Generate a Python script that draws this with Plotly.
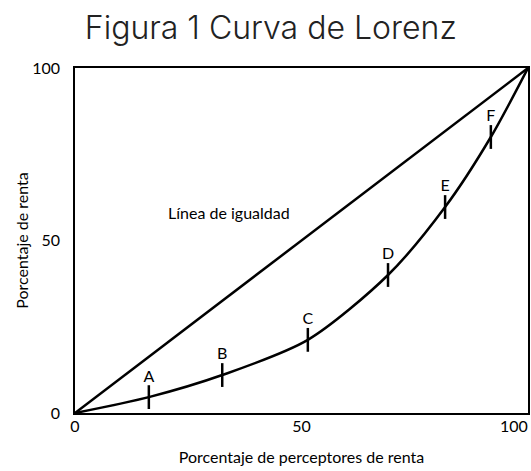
import plotly.graph_objects as go

# Curva de Lorenz (percent of earners vs percent of income)
equality_x = [0, 100]
equality_y = [0, 100]

lorenz_x = [0, 16.3, 32.5, 51.4, 69.1, 81.7, 91.8, 100]
lorenz_y = [0, 4.6, 11.0, 21.2, 40.0, 59.7, 80.0, 100]

point_labels = ["A", "B", "C", "D", "E", "F"]
point_x = lorenz_x[1:-1]
point_y = lorenz_y[1:-1]

tick_vals = [0, 50, 100]
tick_text = ["0", "50", "100"]

label_font = "Lato"

fig = go.Figure()

fig.add_trace(go.Scatter(
    x=equality_x, y=equality_y, mode="lines",
    line=dict(color="black", width=2.5),
    cliponaxis=False, hoverinfo="skip",
))

fig.add_trace(go.Scatter(
    x=lorenz_x, y=lorenz_y, mode="lines",
    line=dict(color="black", width=2.5, shape="spline", smoothing=0.8),
    cliponaxis=False, hoverinfo="skip",
))

fig.add_trace(go.Scatter(
    x=point_x, y=point_y, mode="markers+text",
    marker=dict(symbol="line-ns", size=17, line=dict(color="black", width=2.5)),
    text=point_labels, textposition="top center",
    textfont=dict(family=label_font, size=16, color="black"),
    cliponaxis=False, hoverinfo="skip",
))

fig.add_annotation(
    x=34, y=58, text="Línea de igualdad", showarrow=False,
    font=dict(family=label_font, size=16, color="black"),
)

# the last x tick label sits at the window edge, so right-align it as an annotation
fig.add_annotation(
    x=tick_vals[-1], y=0, yref="paper", text=tick_text[-1], showarrow=False,
    xanchor="right", yanchor="middle", xshift=2, yshift=-12,
    font=dict(family=label_font, size=16, color="black"),
)

fig.update_layout(
    width=531, height=471,
    margin=dict(l=75, r=3, t=68, b=58),
    paper_bgcolor="white", plot_bgcolor="white",
    showlegend=False,
    title=dict(
        text="Figura 1 Curva de Lorenz",
        x=0.51, xanchor="center", yref="container", y=0.94, yanchor="middle",
        font=dict(family="Inter", size=32, color="#222", weight=300),
    ),
)

fig.update_xaxes(
    range=[0, 100], tickvals=tick_vals[:-1], ticktext=tick_text[:-1],
    showgrid=False, zeroline=False, ticks="", automargin=False,
    showline=True, linecolor="black", linewidth=1.5, mirror=True,
    ticklabelstandoff=-2, ticklabeloverflow="allow",
    tickfont=dict(family=label_font, size=16, color="black"),
    title=dict(text="Porcentaje de perceptores de renta", standoff=18,
               font=dict(family=label_font, size=16, color="black")),
)

fig.update_yaxes(
    range=[0, 100], tickvals=tick_vals, ticktext=tick_text,
    showgrid=False, zeroline=False, ticks="", automargin=False,
    showline=True, linecolor="black", linewidth=1.5, mirror=True,
    ticklabelstandoff=10, ticklabeloverflow="allow",
    tickfont=dict(family=label_font, size=16, color="black"),
    title=dict(text="Porcentaje de renta", standoff=0,
               font=dict(family=label_font, size=16, color="black")),
)

# drop the browser's default 8px body margin so the figure fills the window
fig.write_html("out.html", config={"displayModeBar": False},
               post_script="document.body.style.margin='0';")
